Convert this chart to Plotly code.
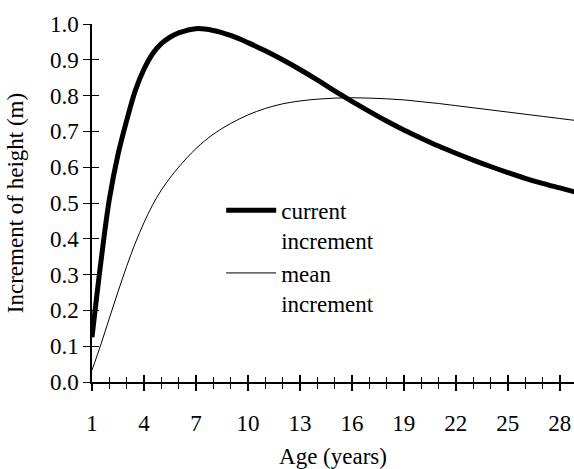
import plotly.graph_objects as go

age = [1, 1.5, 2, 2.5, 3, 3.5, 4, 4.5, 5, 5.5, 6, 7, 8, 9, 10, 11, 12, 13, 14, 15,
       16, 17, 18, 19, 20, 21, 22, 23, 24, 25, 26, 27, 28, 29]
current_increment = [0.125, 0.33, 0.51, 0.635, 0.73, 0.814, 0.874, 0.917, 0.945, 0.963, 0.975,
                     0.987, 0.982, 0.968, 0.948, 0.925, 0.9, 0.873, 0.844, 0.813,
                     0.784, 0.756, 0.729, 0.704, 0.681, 0.659, 0.639, 0.62, 0.602, 0.585,
                     0.569, 0.555, 0.542, 0.529]
mean_increment = [0.033, 0.103, 0.178, 0.252, 0.323, 0.388, 0.445, 0.495, 0.536, 0.57, 0.6,
                  0.652, 0.692, 0.722, 0.746, 0.764, 0.777, 0.785, 0.79, 0.793,
                  0.794, 0.793, 0.791, 0.788, 0.783, 0.778, 0.772, 0.766, 0.76, 0.754,
                  0.748, 0.742, 0.736, 0.73]
x_ticks = [1, 4, 7, 10, 13, 16, 19, 22, 25, 28]
y_ticks = [0.0, 0.1, 0.2, 0.3, 0.4, 0.5, 0.6, 0.7, 0.8, 0.9, 1.0]

FONT = "Liberation Serif"
FS = 23
XR = [1, 28.82]

fig = go.Figure()
fig.add_trace(go.Scatter(x=age, y=current_increment, mode="lines", name="current<br>increment",
                         line=dict(color="black", width=5, shape="spline", smoothing=1)))
fig.add_trace(go.Scatter(x=age, y=mean_increment, mode="lines", name="mean<br>increment",
                         line=dict(color="black", width=1, shape="spline", smoothing=1)))

fig.update_layout(
    width=574, height=469,
    margin=dict(l=92, r=0, t=24, b=87),
    paper_bgcolor="white", plot_bgcolor="white",
    font=dict(family=FONT, size=FS, color="black"),
    showlegend=True,
    legend=dict(x=0.268, y=0.54, xanchor="left", yanchor="top", valign="top",
                bgcolor="rgba(0,0,0,0)", font=dict(size=FS), itemwidth=50,
                tracegroupgap=0),
    xaxis=dict(range=XR, tickvals=x_ticks, ticktext=[str(v) for v in x_ticks],
               ticks="outside", ticklen=7, tickwidth=1.5, tickcolor="black",
               minor=dict(dtick=1, tick0=1, ticks="outside", ticklen=5, tickwidth=1, tickcolor="black"),
               showline=True, linecolor="black", linewidth=1.5, showgrid=False, zeroline=False,
               ticklabelstandoff=13, automargin=False,
               title=dict(text="Age (years)", standoff=18, font=dict(size=FS))),
    xaxis2=dict(range=XR, overlaying="x", side="bottom", tickvals=x_ticks, showticklabels=False,
                ticks="inside", ticklen=7, tickwidth=1.5, tickcolor="black",
                minor=dict(dtick=1, tick0=1, ticks="inside", ticklen=5, tickwidth=1, tickcolor="black"),
                showline=False, showgrid=False, zeroline=False, automargin=False),
    yaxis=dict(range=[0, 1.0], tickvals=y_ticks, ticktext=[f"{v:.1f}" for v in y_ticks],
               ticks="outside", ticklen=7, tickwidth=1, tickcolor="black",
               showline=True, linecolor="black", linewidth=1.5, showgrid=False, zeroline=False,
               automargin=False,
               title=dict(text="Increment of height (m)", standoff=20, font=dict(size=FS))),
    yaxis2=dict(range=[0, 1.0], overlaying="y", side="left", tickvals=y_ticks, showticklabels=False,
                ticks="inside", ticklen=7, tickwidth=1, tickcolor="black",
                showline=False, showgrid=False, zeroline=False, automargin=False),
)
# invisible trace to activate the overlay axes
fig.add_trace(go.Scatter(x=[age[0]], y=[mean_increment[0]], xaxis="x2", yaxis="y2",
                         mode="markers", marker=dict(opacity=0), showlegend=False, hoverinfo="skip"))

fig.write_html("out.html", config={"displayModeBar": False},
               post_script="document.body.style.margin='0';")
